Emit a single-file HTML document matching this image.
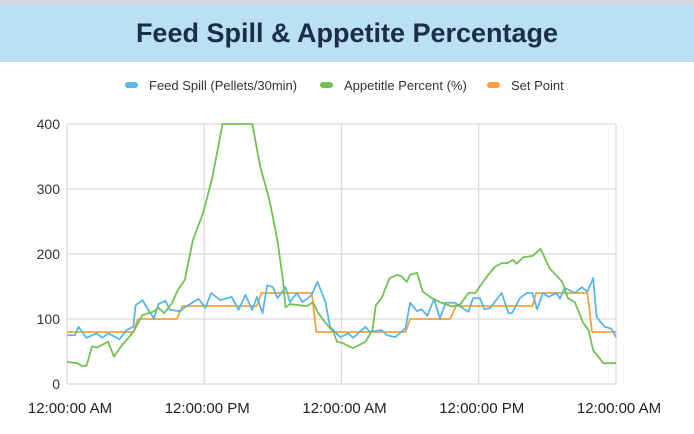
<!DOCTYPE html>
<html><head><meta charset="utf-8"><style>
body{margin:0;width:694px;height:434px;overflow:hidden;background:#fff;font-family:"Liberation Sans",sans-serif}
#top{position:absolute;left:0;top:0;width:694px;height:4px;background:#d6d9dc}
#hdr{position:absolute;left:0;top:4px;width:694px;height:58px;background:#bbdff4}
#title{position:absolute;left:0;top:4px;width:694px;height:58px;line-height:58px;text-align:center;font-weight:bold;font-size:27px;color:#1a2e4a}
svg{position:absolute;left:0;top:0}
</style></head><body>
<div id="top"></div>
<div id="hdr"></div>
<div id="title">Feed Spill &amp; Appetite Percentage</div>
<svg id="c" width="694" height="434"></svg>
<script>
const yTicks=[0,100,200,300,400];
const xTickHours=[0,12,24,36,48];
const xTickLabels=["12:00:00 AM","12:00:00 PM","12:00:00 AM","12:00:00 PM","12:00:00 AM"];
const legendLabels=["Feed Spill (Pellets/30min)","Appetitle Percent (%)","Set Point"];
const spillHours=[0,0.7,1.0,1.7,2.6,3.1,3.6,4.6,5.2,5.8,6.0,6.6,7.0,7.6,8.0,8.6,9.0,9.9,10.3,11.5,12.1,12.6,13.4,14.4,15.0,15.6,16.2,16.6,17.1,17.5,18.0,18.4,19.1,19.5,20.1,20.6,21.4,21.9,22.6,23.0,23.9,24.6,25.0,26.1,26.5,27.5,28.0,28.7,29.6,30.0,30.6,31.0,31.5,32.1,32.6,33.1,33.9,35.1,35.5,36.1,36.5,37.0,38.0,38.6,38.9,39.6,40.2,40.7,41.1,41.6,42.1,42.8,43.1,43.5,44.4,45.0,45.5,46.0,46.3,47.0,47.6,48];
const spillValues=[75,75,88,71,78,71,78,69,83,88,121,129,117,101,123,128,114,112,118,131,117,140,129,134,114,137,114,134,109,152,149,132,149,126,140,126,137,157,126,88,72,78,71,88,80,83,75,72,86,125,112,115,105,131,101,125,125,111,132,132,115,117,140,109,109,132,140,140,115,140,134,140,131,148,140,149,142,163,103,88,85,72];
const appetiteHours=[0,0.9,1.3,1.7,2.2,2.6,3.6,4.1,4.6,5.8,6.6,7.5,8.0,8.5,9.2,9.7,10.3,11.0,11.9,12.7,13.6,16.2,16.9,17.7,18.4,18.9,19.1,19.5,20.4,21.0,21.5,21.9,22.6,23.3,23.6,24.1,25.0,26.1,26.7,27.0,27.5,28.2,28.9,29.3,29.7,30.0,30.6,31.1,31.9,32.6,33.7,34.4,35.1,35.7,36.7,37.4,38.0,38.5,39.0,39.3,39.9,40.7,41.4,42.2,43.3,43.8,44.4,45.1,45.6,46.0,46.9,48];
const appetiteValues=[34,32,28,28,58,56,65,42,55,80,106,111,117,109,125,145,160,221,263,317,400,400,334,283,221,157,118,123,121,120,126,111,94,80,65,63,55,65,83,121,132,163,168,165,157,168,171,142,132,126,119,123,140,140,165,180,186,186,191,185,195,197,208,178,157,132,126,95,83,52,32,32];
const setHours=[0,5.8,6.2,9.6,10.1,16.6,17.0,21.4,21.8,29.6,30.0,33.5,34.0,40.7,41.0,45.5,45.9,48];
const setValues=[80,80,100,100,120,120,140,140,80,80,100,100,120,120,140,140,80,80];

const NS="http://www.w3.org/2000/svg",svg=document.getElementById('c');
const X0=67,X1=616,Y0=384,Y1=124;
const xs=h=>X0+(X1-X0)*h/48, ys=v=>Y0-(Y0-Y1)*v/400;
function mk(t,a,p){const e=document.createElementNS(NS,t);for(const k in a)e.setAttribute(k,a[k]);(p||svg).appendChild(e);return e;}
yTicks.forEach((v,i)=>{
  const l=mk('line',{x1:X0,x2:X1,y1:ys(v),y2:ys(v),stroke:'#dcdcdc','stroke-width':1.3});
  
  
  const t=mk('text',{x:60,y:ys(v)+5,'text-anchor':'end','font-size':14,fill:'#333'});
  t.textContent=v;
  
  
});
xTickHours.forEach((h,i)=>{
  const l=mk('line',{x1:xs(h),x2:xs(h),y1:Y1,y2:Y0,stroke:'#dcdcdc','stroke-width':1.3});
  
  
  const t=mk('text',{x:xs(h)+3,y:413,'text-anchor':'middle','font-size':15,fill:'#222'});
  t.textContent=xTickLabels[i];
  
  
});
function line(hs,vs,col,name){
  const p=mk('polyline',{points:hs.map((h,i)=>xs(h)+','+ys(vs[i])).join(' '),fill:'none',stroke:col,'stroke-width':1.8,'stroke-linejoin':'round'});
  
  
}
line(setHours,setValues,'#f4a23a','set-point-line');
line(spillHours,spillValues,'#5ab6e6','feed-spill-line');
line(appetiteHours,appetiteValues,'#73c155','appetite-line');
const cols=['#5ab6e6','#73c155','#f4a23a'],lx=[125,320,487];
legendLabels.forEach((s,i)=>{
  const g=mk('g',{});
  
  
  mk('rect',{x:lx[i],y:82,width:13,height:6,rx:3,fill:cols[i]},g);
  const t=mk('text',{x:lx[i]+24,y:90,'font-size':13,fill:'#333'},g);
  t.textContent=s;
});
</script>
</body></html>
